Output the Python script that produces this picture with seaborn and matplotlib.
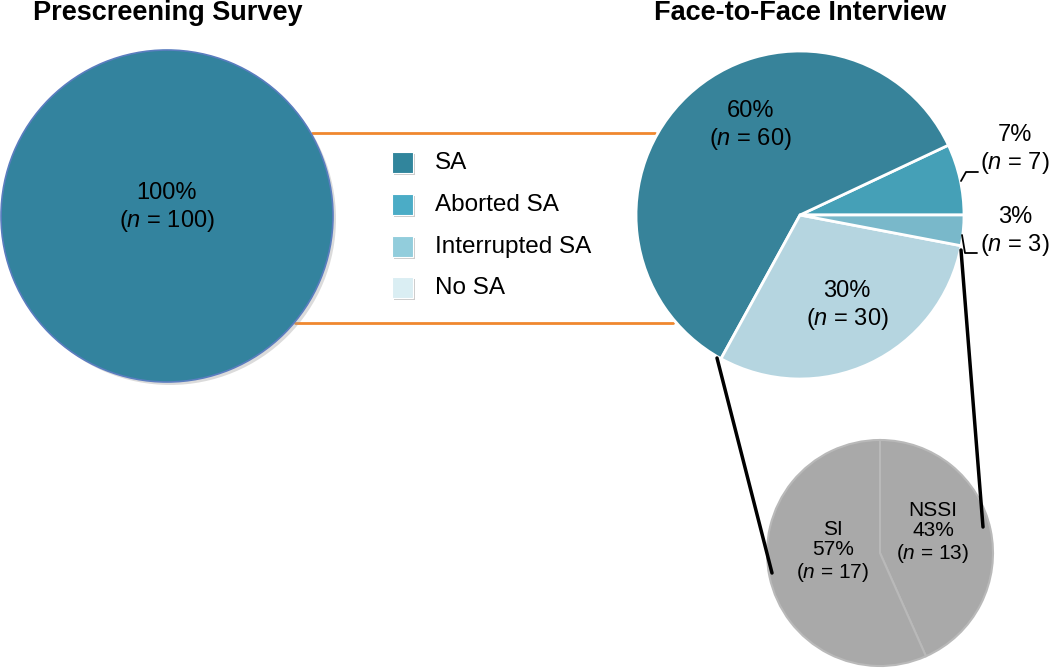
import matplotlib
matplotlib.use("Agg")
import matplotlib.pyplot as plt
import seaborn as sns
from matplotlib.patches import Circle, Rectangle

# data
prescreen_label = "SA"
prescreen_count = [100]

interview_labels = ["SA", "Aborted SA", "Interrupted SA", "No SA"]
interview_counts = [60, 7, 3, 30]

followup_labels = ["NSSI", "SI"]
followup_counts = [13, 17]

# colours
pie_colors = ["#37839a", "#45a0b7", "#79b8ca", "#b5d5e0"]
legend_colors = ["#31859c", "#4bacc6", "#92cddc", "#daeef3"]
prescreen_color = "#33839e"
gray = "#a9a9a9"

sns.set_theme(style="white")
plt.rcParams["font.family"] = ["Liberation Sans", "DejaVu Sans"]
plt.rcParams["text.color"] = "black"
plt.rcParams["mathtext.fontset"] = "custom"
plt.rcParams["mathtext.it"] = "Liberation Sans:italic"
plt.rcParams["mathtext.rm"] = "Liberation Sans"

W, H = 1050, 672


def Y(y):
    # pixel row (from top) -> data y
    return H - y


fig = plt.figure(figsize=(W / 100, H / 100), dpi=100)
ax = fig.add_axes([0, 0, 1, 1])

# orange connector lines between the two big pies
ax.plot([312, 655], [Y(133), Y(133)], color="#f0882f", lw=2, zorder=1)
ax.plot([295, 673], [Y(323), Y(323)], color="#f0882f", lw=2, zorder=1)

# Prescreening pie (single slice)
ax.add_patch(Circle((170, Y(219)), 166, color="#9a9a9a", alpha=0.35, zorder=1.5, lw=0))
ax.pie(prescreen_count, colors=[prescreen_color], center=(167, Y(216)), radius=166,
       wedgeprops=dict(edgecolor="#5a7dbf", linewidth=1.2, zorder=2))
total = sum(prescreen_count)
ax.text(167, Y(208), f"{round(100 * prescreen_count[0] / total)}%\n($n$ = {prescreen_count[0]})",
        ha="center", va="center", fontsize=17, linespacing=1.25, zorder=5)

# Face-to-face interview pie: counterclockwise from 0 deg -> Aborted, SA, No SA, Interrupted
order = [1, 0, 3, 2]
ax.pie([interview_counts[i] for i in order], colors=[pie_colors[i] for i in order],
       startangle=0, counterclock=True, center=(800, Y(215)), radius=164,
       wedgeprops=dict(edgecolor="white", linewidth=2, zorder=2))
itotal = sum(interview_counts)
label_pos = {0: (750, 126), 1: (1015, 150), 2: (1015, 232), 3: (847, 306)}
for i, (x, y) in label_pos.items():
    n = interview_counts[i]
    ax.text(x, Y(y), f"{round(100 * n / itotal)}%\n($n$ = {n})", ha="center", va="center",
            fontsize=17, linespacing=1.25, zorder=5)

# leader lines for small slices
ax.plot([961, 966, 978], [Y(181), Y(172), Y(172)], color="black", lw=1.3, zorder=5)
ax.plot([962, 965, 977], [Y(235), Y(253), Y(253)], color="black", lw=1.3, zorder=5)

# black lines from the No SA slice to the breakdown pie
ax.plot([717, 772], [Y(358), Y(573)], color="black", lw=2.5, zorder=4)
ax.plot([961, 983], [Y(250), Y(527)], color="black", lw=2.5, zorder=4)

# breakdown pie of No SA
ax.pie(followup_counts, colors=[gray, gray], startangle=90, counterclock=False,
       center=(880, Y(553)), radius=113,
       wedgeprops=dict(edgecolor="#b9b9b9", linewidth=1.5, zorder=2))
ftotal = sum(followup_counts)
follow_pos = {0: (933, 533), 1: (833, 552)}
for i, (x, y) in follow_pos.items():
    n = followup_counts[i]
    ax.text(x, Y(y), f"{followup_labels[i]}\n{round(100 * n / ftotal)}%\n($n$ = {n})",
            ha="center", va="center", fontsize=15, linespacing=1.12, zorder=5)

# legend
rows = [163, 205, 247, 288]
for lab, col, y in zip(interview_labels, legend_colors, rows):
    ax.add_patch(Rectangle((394, Y(y) - 12), 21, 21, color="#9a9a9a", alpha=0.5, lw=0, zorder=3))
    ax.add_patch(Rectangle((392, Y(y) - 10), 21, 21, facecolor=col, edgecolor="white",
                           lw=0.8, zorder=4))
    ax.text(435, Y(y), lab, ha="left", va="center", fontsize=17.5, zorder=5)

# titles
ax.text(168, Y(20), "Prescreening Survey", ha="center", va="baseline",
        fontsize=19.5, fontweight="bold")
ax.text(800, Y(20), "Face-to-Face Interview", ha="center", va="baseline",
        fontsize=19.5, fontweight="bold")

ax.set_xlim(0, W)
ax.set_ylim(0, H)
ax.set_aspect("equal")
ax.axis("off")

fig.savefig("out.png", dpi=100)
